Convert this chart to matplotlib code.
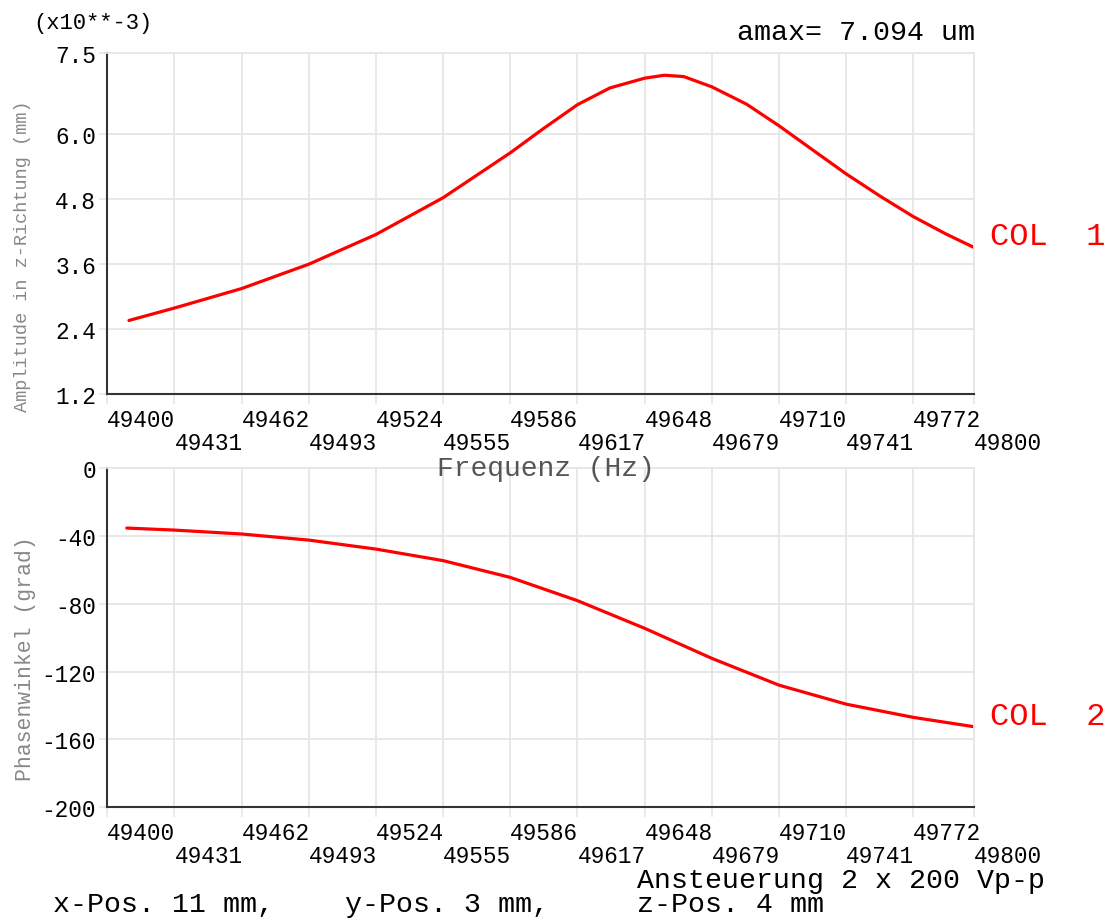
import matplotlib
matplotlib.use("Agg")
import matplotlib.pyplot as plt

plt.rcParams['font.family'] = ['Liberation Mono', 'DejaVu Sans Mono']
plt.rcParams['axes.unicode_minus'] = False

# Frequency sweep (Hz) and measured response
freq_amp = [49410, 49431, 49462, 49493, 49524, 49555, 49586, 49601, 49617, 49632,
            49648, 49657, 49666, 49679, 49695, 49710, 49726, 49741, 49757, 49772,
            49787, 49800]
amplitude = [2.56, 2.79, 3.15, 3.60, 4.15, 4.83, 5.66, 6.10, 6.55, 6.86,
             7.04, 7.094, 7.07, 6.88, 6.56, 6.16, 5.70, 5.27, 4.85, 4.48,
             4.16, 3.91]

freq_phase = [49409, 49431, 49462, 49493, 49524, 49555, 49586, 49617, 49648,
              49679, 49710, 49741, 49772, 49800]
phase = [-35.4, -36.6, -38.9, -42.5, -47.8, -54.6, -64.5, -78.2, -94.5,
         -112.2, -128.0, -139.2, -147.0, -152.5]

x_ticks_upper = [49400, 49462, 49524, 49586, 49648, 49710, 49772]
x_ticks_lower = [49431, 49493, 49555, 49617, 49679, 49741, 49800]
amp_ticks = [1.2, 2.4, 3.6, 4.8, 6.0, 7.5]
amp_labels = ["1.2", "2.4", "3.6", "4.8", "6.0", "7.5"]
phase_ticks = [0, -40, -80, -120, -160, -200]
phase_labels = ["0", "-40", "-80", "-120", "-160", "-200"]

W, H = 1114, 920
fig = plt.figure(figsize=(W / 100, H / 100), dpi=100)

GRID = '#e6e6e6'
SPINE = '#333333'
RED = '#ff0000'


def px_axes(left, top, right, bottom):
    return fig.add_axes([left / W, 1 - bottom / H, (right - left) / W, (bottom - top) / H])


def style(ax, yticks, ylabels, ylim):
    ax.set_xlim(49400, 49800)
    ax.set_ylim(*ylim)
    ax.set_xticks(x_ticks_upper)
    ax.set_xticklabels([str(v) for v in x_ticks_upper])
    ax.set_xticks(x_ticks_lower, minor=True)
    ax.set_xticklabels([str(v) for v in x_ticks_lower], minor=True)
    ax.set_yticks(yticks)
    ax.set_yticklabels(ylabels)
    for lab in ax.get_xticklabels() + ax.get_xticklabels(minor=True):
        lab.set_horizontalalignment('left')
    ax.tick_params(axis='x', which='major', length=7, width=1.2, color=GRID,
                   pad=3, labelsize=16.4, labelcolor='black')
    ax.tick_params(axis='x', which='minor', length=7, width=1.2, color=GRID,
                   pad=19.5, labelsize=16.4, labelcolor='black')
    ax.tick_params(axis='y', length=6, width=1.2, color=GRID, pad=2,
                   labelsize=16.4, labelcolor='black')
    ax.grid(True, which='both', color=GRID, lw=1.3)
    ax.set_axisbelow(True)
    for s in ('top', 'right'):
        ax.spines[s].set_color(GRID)
        ax.spines[s].set_linewidth(1.3)
    for s in ('left', 'bottom'):
        ax.spines[s].set_color(SPINE)
        ax.spines[s].set_linewidth(1.5)
    ax.set_facecolor('white')


ax1 = px_axes(107.3, 54.3, 974, 395)
ax1.plot(freq_amp, amplitude, color=RED, lw=2.3, solid_capstyle='round',
         solid_joinstyle='round')
style(ax1, amp_ticks, amp_labels, (1.2, 7.5))

ax2 = px_axes(107.3, 469, 974, 808.3)
ax2.plot(freq_phase, phase, color=RED, lw=2.3, solid_capstyle='round',
         solid_joinstyle='round')
style(ax2, phase_ticks, phase_labels, (-200, 0))


def ftext(x, y, s, **kw):
    fig.text(x / W, 1 - y / H, s, **kw)


ftext(33, 24, "(x10**-3)", fontsize=15.9, va='center', ha='left')
ftext(975, 33, "amax= 7.094 um", fontsize=20.4, va='center', ha='right')
ftext(990, 237, "COL  1", fontsize=23, color=RED, va='center', ha='left')
ftext(990, 717, "COL  2", fontsize=23, color=RED, va='center', ha='left')
ftext(437, 469, "Frequenz (Hz)", fontsize=20.2, color='#555555', va='center', ha='left')
ftext(23, 256, "Amplitude in z-Richtung (mm)", fontsize=13.4, color='#888888',
      rotation=90, va='center', ha='center')
ftext(26, 659, "Phasenwinkel (grad)", fontsize=15.5, color='#888888',
      rotation=90, va='center', ha='center')
ftext(637, 881, "Ansteuerung 2 x 200 Vp-p", fontsize=20.3, va='center', ha='left')
ftext(53, 905, "x-Pos. 11 mm,", fontsize=20.3, va='center', ha='left')
ftext(345, 905, "y-Pos. 3 mm,", fontsize=20.3, va='center', ha='left')
ftext(637, 905, "z-Pos. 4 mm", fontsize=20.3, va='center', ha='left')

fig.savefig("out.png", dpi=100, facecolor='white')
